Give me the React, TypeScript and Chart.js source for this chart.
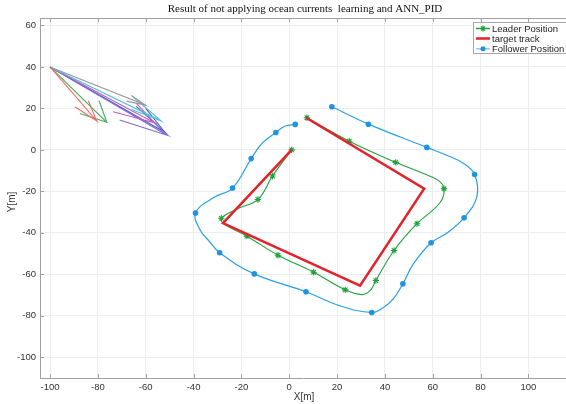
import React, { useEffect, useRef } from 'react';
import { Chart, registerables } from 'chart.js';
Chart.register(...registerables);

const titleText = 'Result of not applying ocean currents  learning and ANN_PID';
const xLabel = 'X[m]';
const yLabel = 'Y[m]';
const xMin = -104.2;
const xMax = 115.7;
const yMin = -110;
const yMax = 63.6;
const xTickValues = [-100, -80, -60, -40, -20, 0, 20, 40, 60, 80, 100];
const yTickValues = [-100, -80, -60, -40, -20, 0, 20, 40, 60];
const seriesNames = ['Leader Position', 'target track', 'Follower Position'];

// [x, y]
const targetTrack: [number, number][] = [
  [1, 0], [-27.7, -35.3], [29.6, -65.5], [56.4, -18.7], [7.1, 15.5],
];

// [x, y, marker]
const leaderPoints: [number, number, number][] = [
  [1, 0, 1], [-7, -12.6, 1], [-13.1, -23.9, 1], [-21.8, -28.5, 0], [-28.4, -33, 1],
  [-27.2, -35.8, 0], [-17.7, -41.6, 1], [-4.7, -50.8, 1], [10.2, -59, 1], [23.4, -67.5, 1],
  [30.4, -69.8, 0], [33.8, -67.9, 0], [36.2, -63, 1], [43.8, -48.5, 1], [53.4, -35.6, 1],
  [63, -25.5, 0], [64.7, -18.7, 1], [62.3, -14.7, 0], [56.1, -11.4, 0], [44.5, -6, 1],
  [25.1, 4.2, 1], [7.4, 15.5, 1],
];

const followerPoints: [number, number, number][] = [
  [2.5, 12.3, 1], [-1.7, 11.5, 0], [-5.6, 8.4, 1], [-11.4, 3.1, 0], [-15.9, -4.2, 1],
  [-23.7, -18.4, 1], [-31.6, -23, 0], [-39.2, -30.4, 1], [-37.2, -38.8, 0], [-33.7, -43.7, 0],
  [-29.1, -49.6, 1], [-14.6, -59.8, 1], [7, -68.4, 1], [21.3, -75.2, 0], [34.5, -78.4, 1],
  [39.4, -76, 0], [43.5, -71.9, 0], [47.5, -64.6, 1], [51.9, -55, 0], [59.3, -44.8, 1],
  [66.4, -39.7, 0], [73.1, -32.7, 1], [78.4, -22.7, 0], [77.5, -11.9, 1], [72.7, -6.4, 0],
  [65.8, -2.6, 0], [57.5, 1.2, 1], [33.1, 12.4, 1], [17.8, 20.8, 1],
];

const quiverOrigin: [number, number] = [-100, 40];
const quiverColors = ['#f06a6a', '#4cae5a', '#9a9a9a', '#4cc4d4', '#c05cc4', '#7a6ad0', '#4a5ac8'];
const quiverTips: [number, number][] = [
  [-80.5, 14], [-76.3, 13.3], [-60.1, 21.6], [-53.6, 14], [-56.4, 13.1], [-51, 7.1], [-52, 8.5],
];
const quiverBarbsA: [number, number][] = [
  [-89.6, 20.8], [-87.5, 17.5], [-66.1, 26.3], [-65.7, 26], [-73.6, 18.4], [-70.9, 14.4], [-64, 21],
];
const quiverBarbsB: [number, number][] = [
  [-84, 23.7], [-79.5, 23.7], [-68, 23.5], [-66, 19.5], [-64, 22.5], [-61.5, 18.9], [-60, 20],
];

const legendColors = ['#1fa23c', '#e3222b', '#8ecbf2'];

const decorPlugin = {
  id: 'decor',
  afterDraw(chart: any) {
    const ctx = chart.ctx as CanvasRenderingContext2D;
    const a = chart.chartArea;
    const xs = chart.scales.x;
    const ys = chart.scales.y;
    ctx.save();
    ctx.strokeStyle = '#a0a0a0';
    ctx.lineWidth = 1;
    ctx.beginPath();
    ctx.moveTo(a.left, a.top + 0.5);
    ctx.lineTo(a.right, a.top + 0.5);
    ctx.stroke();
    ctx.beginPath();
    xs.ticks.forEach((t: any) => {
      const px = Math.round(xs.getPixelForValue(t.value)) + 0.5;
      ctx.moveTo(px, a.bottom);
      ctx.lineTo(px, a.bottom - 4);
      ctx.moveTo(px, a.top);
      ctx.lineTo(px, a.top + 4);
    });
    ys.ticks.forEach((t: any) => {
      const py = Math.round(ys.getPixelForValue(t.value)) + 0.5;
      ctx.moveTo(a.left, py);
      ctx.lineTo(a.left + 4, py);
    });
    ctx.stroke();
    ctx.fillStyle = '#111';
    ctx.font = '11px "Liberation Serif", "Times New Roman", serif';
    ctx.textAlign = 'center';
    ctx.textBaseline = 'middle';
    ctx.fillText(titleText, (a.left + a.right) / 2 + 2, 9);
    ctx.fillStyle = '#333';
    ctx.font = '10px "Liberation Sans", Arial, sans-serif';
    ctx.fillText(xLabel, 304, 397);
    ctx.save();
    ctx.translate(12, 202);
    ctx.rotate(-Math.PI / 2);
    ctx.fillText(yLabel, 0, 0);
    ctx.restore();
    const lx = 473, ly = 22, lw = 100, lh = 31;
    ctx.fillStyle = '#fff';
    ctx.fillRect(lx, ly, lw, lh);
    ctx.strokeStyle = '#a8a8a8';
    ctx.lineWidth = 1;
    ctx.strokeRect(lx + 0.5, ly + 0.5, lw, lh);
    const rows = [28.5, 38.5, 48.8];
    ctx.font = '9.5px "Liberation Sans", Arial, sans-serif';
    ctx.textAlign = 'left';
    rows.forEach((ry, i) => {
      ctx.strokeStyle = legendColors[i];
      ctx.lineWidth = i === 1 ? 2.5 : 1.5;
      ctx.beginPath();
      ctx.moveTo(476, ry);
      ctx.lineTo(490, ry);
      ctx.stroke();
      if (i === 0) {
        ctx.lineWidth = 1.2;
        const cx = 483, r = 3;
        ctx.beginPath();
        ctx.moveTo(cx - r, ry); ctx.lineTo(cx + r, ry);
        ctx.moveTo(cx, ry - r); ctx.lineTo(cx, ry + r);
        ctx.moveTo(cx - r * 0.7, ry - r * 0.7); ctx.lineTo(cx + r * 0.7, ry + r * 0.7);
        ctx.moveTo(cx - r * 0.7, ry + r * 0.7); ctx.lineTo(cx + r * 0.7, ry - r * 0.7);
        ctx.stroke();
      }
      if (i === 2) {
        ctx.fillStyle = '#1e93e0';
        ctx.beginPath();
        ctx.arc(483, ry, 2.5, 0, Math.PI * 2);
        ctx.fill();
      }
      ctx.fillStyle = '#222';
      ctx.fillText(seriesNames[i], 492, ry + 0.5);
    });
    ctx.restore();
  },
};

export default function App() {
  const ref = useRef<HTMLCanvasElement | null>(null);
  useEffect(() => {
    if (!ref.current) return;
    const quiverSets: any[] = [];
    quiverTips.forEach((tip, i) => {
      quiverSets.push({
        label: 'qa' + i,
        data: [
          { x: quiverOrigin[0], y: quiverOrigin[1] },
          { x: tip[0], y: tip[1] },
          { x: quiverBarbsA[i][0], y: quiverBarbsA[i][1] },
        ],
        showLine: true,
        borderColor: quiverColors[i],
        borderWidth: 1.1,
        pointRadius: 0,
        tension: 0,
        order: 10,
      });
      quiverSets.push({
        label: 'qb' + i,
        data: [
          { x: tip[0], y: tip[1] },
          { x: quiverBarbsB[i][0], y: quiverBarbsB[i][1] },
        ],
        showLine: true,
        borderColor: quiverColors[i],
        borderWidth: 1.1,
        pointRadius: 0,
        tension: 0,
        order: 10,
      });
    });
    const tickFont = { size: 9.5, family: '"Liberation Sans", Arial, sans-serif' };
    const chart = new Chart(ref.current, {
      type: 'scatter',
      data: {
        datasets: [
          {
            label: seriesNames[2],
            data: followerPoints.map(p => ({ x: p[0], y: p[1], m: p[2] })),
            showLine: true,
            borderColor: '#2aa0e4',
            borderWidth: 1.2,
            tension: 0.4,
            pointRadius: (c: any) => (c.raw && c.raw.m ? 2.8 : 0),
            pointBackgroundColor: '#1e93e0',
            pointBorderColor: '#1e93e0',
            pointBorderWidth: 0,
            order: 3,
          } as any,
          {
            label: seriesNames[1],
            data: targetTrack.map(p => ({ x: p[0], y: p[1] })),
            showLine: true,
            borderColor: '#e3222b',
            borderWidth: 2.5,
            tension: 0,
            pointRadius: 0,
            order: 1,
          },
          {
            label: seriesNames[0],
            data: leaderPoints.map(p => ({ x: p[0], y: p[1], m: p[2] })),
            showLine: true,
            borderColor: '#1fa23c',
            borderWidth: 1.1,
            tension: 0.4,
            pointStyle: 'star',
            pointRadius: (c: any) => (c.raw && c.raw.m ? 3.2 : 0),
            pointBorderColor: '#1fa23c',
            pointBorderWidth: 1.1,
            order: 2,
          } as any,
          ...quiverSets,
        ],
      },
      options: {
        responsive: false,
        animation: false,
        layout: { autoPadding: false, padding: { top: 18, right: 0, left: 0, bottom: 0 } },
        plugins: { legend: { display: false }, tooltip: { enabled: false }, title: { display: false } },
        scales: {
          x: {
            type: 'linear',
            min: xMin,
            max: xMax,
            afterBuildTicks: (s: any) => { s.ticks = xTickValues.map(v => ({ value: v })); },
            afterFit: (s: any) => { s.height = 26; },
            ticks: { padding: 4, color: '#333', font: tickFont, maxRotation: 0, autoSkip: false },
            grid: { color: '#ededed', drawTicks: false },
            border: { color: '#a0a0a0' },
          },
          y: {
            type: 'linear',
            min: yMin,
            max: yMax,
            afterBuildTicks: (s: any) => { s.ticks = yTickValues.map(v => ({ value: v })); },
            afterFit: (s: any) => { s.width = 40; },
            ticks: { padding: 4, color: '#333', font: tickFont, autoSkip: false },
            grid: { color: '#ededed', drawTicks: false },
            border: { color: '#a0a0a0' },
          },
        },
      },
      plugins: [decorPlugin],
    });
    return () => chart.destroy();
  }, []);
  return (
    <div style={{ position: 'absolute', left: 0, top: 0, width: 566, height: 404, background: '#fff' }}>
      <canvas ref={ref} width={566} height={404} style={{ display: 'block' }} />
    </div>
  );
}
